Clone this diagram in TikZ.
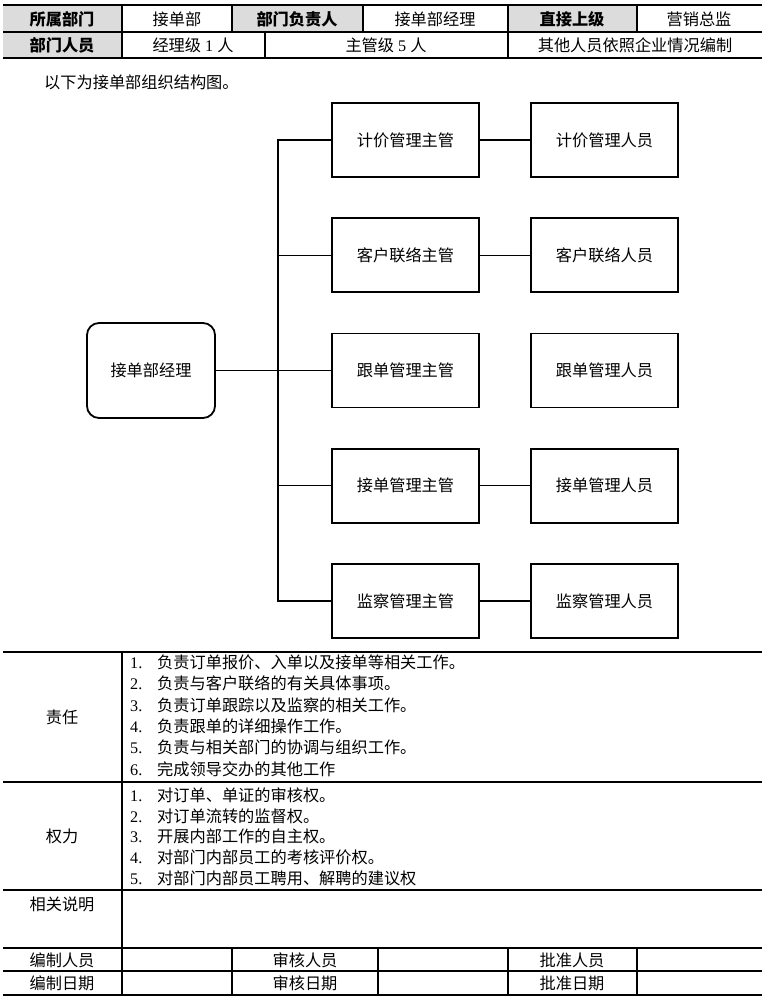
\documentclass[tikz,border=0pt]{standalone}
\usepackage{fontspec}
\setmainfont{Noto Sans CJK SC}
\newfontfamily\numf{Liberation Serif}
\newcommand\fs{\fontsize{16.2pt}{19pt}\selectfont}
\definecolor{cellgray}{HTML}{DCDCDC}
\begin{document}
\begin{tikzpicture}[x=1pt,y=-1pt,
  box/.style={draw, line width=1.8pt, minimum width=147pt, minimum height=74pt, inner sep=0pt, font=\fs},
  mgrbox/.style={box, rounded corners=12pt, minimum width=128pt, minimum height=95pt},
  link/.style={line width=1.2pt},
  rule/.style={line width=1.1pt},
  thickrule/.style={line width=2.4pt},
  cell/.style={inner sep=0pt, font=\fs},
  lbl/.style={inner sep=0pt, font=\fs\bfseries},
  item/.style={anchor=west, inner sep=0pt, font=\fs}
]
\useasboundingbox (0,0) rectangle (764,1000);
\fill[white] (0,0) rectangle (764,1000);

% ---------- header table ----------
\fill[cellgray] (3,5) rectangle (122,58);
\fill[cellgray] (232,5) rectangle (363,32);
\fill[cellgray] (508,5) rectangle (637,32);
\draw[thickrule] (3,5) -- (762,5);
\draw[rule] (3,32) -- (762,32);
\draw[line width=1.6pt] (3,58) -- (762,58);
\foreach \x in {122,232,363,508,637} \draw[rule] (\x,5) -- (\x,32);
\foreach \x in {122,265,508} \draw[rule] (\x,32) -- (\x,58);

\node[lbl]  (h11) at (62,19)  {所属部门};
\node[cell] (h12) at (177,19) {接单部};
\node[lbl]  (h13) at (297,19) {部门负责人};
\node[cell] (h14) at (435,19) {接单部经理};
\node[lbl]  (h15) at (572,19) {直接上级};
\node[cell] (h16) at (699,19) {营销总监};
\node[lbl]  (h21) at (62,45)  {部门人员};
\node[cell] (h22) at (193,45) {经理级{\numf\ 1\ }人};
\node[cell] (h23) at (386,45) {主管级{\numf\ 5\ }人};
\node[cell] (h24) at (635,45) {其他人员依照企业情况编制};

\node[item] (intro) at (44,82) {以下为接单部组织结构图。};

% ---------- org chart ----------
\node[mgrbox] (mgr) at (151,370.5) {接单部经理};
\node[box] (s1) at (405.5,140)    {计价管理主管};
\node[box] (s2) at (405.5,255.25) {客户联络主管};
\node[box] (s3) at (405.5,370.5)  {跟单管理主管};
\node[box] (s4) at (405.5,485.75) {接单管理主管};
\node[box] (s5) at (405.5,601)    {监察管理主管};
\node[box] (p1) at (604.5,140)    {计价管理人员};
\node[box] (p2) at (604.5,255.25) {客户联络人员};
\node[box] (p3) at (604.5,370.5)  {跟单管理人员};
\node[box] (p4) at (604.5,485.75) {接单管理人员};
\node[box] (p5) at (604.5,601)    {监察管理人员};
\coordinate (bus) at (278,370.5);

\draw[link] (s1.west) -| (bus) |- (s5.west);
\draw[link] (mgr.east) -- (s3.west);
\draw[link] (s2.west) -- (s2.west -| bus);
\draw[link] (s4.west) -- (s4.west -| bus);
\foreach \i in {1,2,4,5} \draw[link] (s\i.east) -- (p\i.west);

% ---------- bottom table ----------
\draw[rule] (3,652) -- (762,652);
\draw[rule] (3,782) -- (762,782);
\draw[rule] (3,890) -- (762,890);
\draw[rule] (3,948) -- (762,948);
\draw[rule] (3,971) -- (762,971);
\draw[thickrule] (3,995) -- (762,995);
\draw[rule] (122,652) -- (122,995);
\foreach \x in {232,378,508,637} \draw[rule] (\x,948) -- (\x,995);

\node[cell] (zr) at (62,717) {责任};
\node[item] (r1) at (130,662) {\makebox[27pt][l]{\numf 1.}负责订单报价、入单以及接单等相关工作。};
\node[item] (r2) at (130,683.5) {\makebox[27pt][l]{\numf 2.}负责与客户联络的有关具体事项。};
\node[item] (r3) at (130,705) {\makebox[27pt][l]{\numf 3.}负责订单跟踪以及监察的相关工作。};
\node[item] (r4) at (130,726) {\makebox[27pt][l]{\numf 4.}负责跟单的详细操作工作。};
\node[item] (r5) at (130,747.5) {\makebox[27pt][l]{\numf 5.}负责与相关部门的协调与组织工作。};
\node[item] (r6) at (130,769) {\makebox[27pt][l]{\numf 6.}完成领导交办的其他工作};

\node[cell] (ql) at (62,836) {权力};
\node[item] (q1) at (130,795) {\makebox[27pt][l]{\numf 1.}对订单、单证的审核权。};
\node[item] (q2) at (130,816) {\makebox[27pt][l]{\numf 2.}对订单流转的监督权。};
\node[item] (q3) at (130,836.5) {\makebox[27pt][l]{\numf 3.}开展内部工作的自主权。};
\node[item] (q4) at (130,857) {\makebox[27pt][l]{\numf 4.}对部门内部员工的考核评价权。};
\node[item] (q5) at (130,878) {\makebox[27pt][l]{\numf 5.}对部门内部员工聘用、解聘的建议权};

\node[cell] (xg) at (62,904) {相关说明};
\node[cell] (b11) at (62,960) {编制人员};
\node[cell] (b12) at (305,960) {审核人员};
\node[cell] (b13) at (572,960) {批准人员};
\node[cell] (b21) at (62,983) {编制日期};
\node[cell] (b22) at (305,983) {审核日期};
\node[cell] (b23) at (572,983) {批准日期};
\end{tikzpicture}
\end{document}
